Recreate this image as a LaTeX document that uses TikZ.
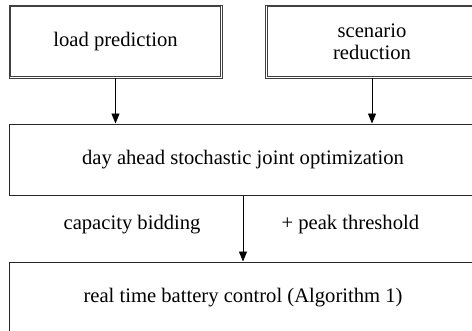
\documentclass[tikz,border=0pt]{standalone}
\usepackage{fontspec}
\setmainfont{Liberation Serif}
\usetikzlibrary{arrows.meta}

\tikzset{
  stepbox/.style={draw=black!75, line width=0.8bp, minimum width=213bp,
    minimum height=73bp, inner sep=0pt, align=center},
  optbox/.style={draw=black!85, line width=1bp, minimum width=466bp,
    minimum height=71bp, inner sep=0pt},
  flow/.style={-{Triangle[length=10bp,width=8bp]}, line width=0.9bp},
}

\begin{document}
\begin{tikzpicture}[x=1bp, y=-1bp, font=\fontsize{20.7}{22}\selectfont]
\useasboundingbox (0,0) rectangle (472,330);
\clip (0,0) rectangle (472,330);

% inputs, with a double frame
\node [stepbox] (pred) at (115.5,41.5) {load prediction};
\node [stepbox] (scen) at (372,41.5) {scenario\\reduction};
\foreach \n in {pred,scen}
  \draw [black!75, line width=0.8bp] ([shift={(2.2bp,2.2bp)}]\n.south west)
    rectangle ([shift={(-2.2bp,-2.2bp)}]\n.north east);

% optimization and control
\node [optbox] (opt) at (243,159.5) {day ahead stochastic joint optimization};
\node [optbox] (ctrl) at (243,297.5) {real time battery control (Algorithm 1)};

\draw [flow] (pred.south) -- (pred.south |- opt.north);
\draw [flow] (scen.south) -- (scen.south |- opt.north);
\draw [flow] (opt.south) -- (ctrl.north);

\node [anchor=east] (bid) at (204,225) {capacity bidding};
\node [anchor=west] (peak) at (278,225) {+ peak threshold};
\end{tikzpicture}
\end{document}
